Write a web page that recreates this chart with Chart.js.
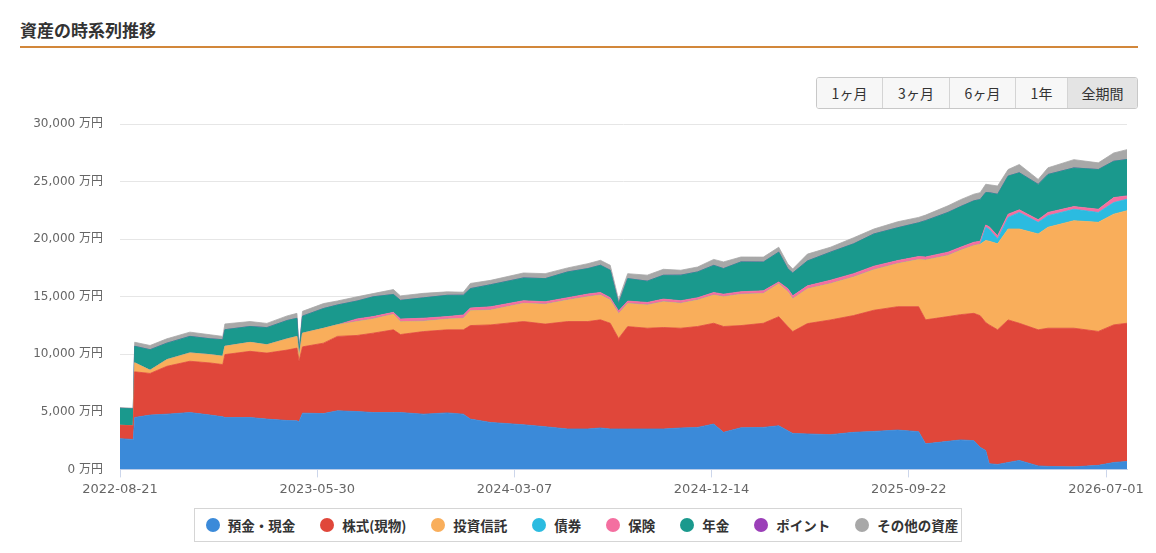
<!DOCTYPE html>
<html lang="ja">
<head>
<meta charset="utf-8">
<title>資産の時系列推移</title>
<script src="https://cdn.jsdelivr.net/npm/chart.js@4.4.1/dist/chart.umd.min.js"></script>
<style>
  html, body { margin: 0; padding: 0; background: #fff; }
  body { width: 1156px; height: 553px; position: relative; overflow: hidden;
         font-family: 'Noto Sans CJK JP', sans-serif; color: #333; }
  h2 { position: absolute; left: 20px; top: 17px; margin: 0; font-size: 17px; font-weight: bold; color: #333; }
  .rule { position: absolute; left: 20px; top: 46px; width: 1118px; height: 2px; background: #d2873a; }
  .range { position: absolute; left: 816px; top: 77px; display: flex; border: 1px solid #c8c8c8;
           border-radius: 3px; overflow: hidden; }
  .range span { display: block; box-sizing: border-box; height: 30px; line-height: 30px; text-align: center;
                font-size: 14px; background: #f7f7f7; border-left: 1px solid #d4d4d4; color: #333; }
  .range span:first-child { border-left: none; }
  .range span.on { background: #e4e4e4; }
  .wrap { position: absolute; left: 20px; top: 100px; width: 1136px; height: 404px; }
  .legend { position: absolute; left: 194px; top: 508px; width: 768px; height: 34px; box-sizing: border-box;
            border: 1px solid #d5d5d5; display: flex; align-items: center; justify-content: center;
            white-space: nowrap; padding-left: 8px; }
  .legend .item { display: flex; align-items: center; flex-shrink: 0; margin: 0 12.5px;
                  font-size: 13.5px; font-weight: bold; color: #333; white-space: nowrap; }
  .legend .dot { flex-shrink: 0; width: 14px; height: 14px; border-radius: 50%; margin-right: 8px; }
</style>
</head>
<body>
<h2>資産の時系列推移</h2>
<div class="rule"></div>
<div class="range">
  <span style="width:65px">1ヶ月</span><span style="width:67px">3ヶ月</span><span style="width:66px">6ヶ月</span><span style="width:52px">1年</span><span class="on" style="width:70px">全期間</span>
</div>
<div class="wrap"><canvas id="assetChart"></canvas></div>
<div class="legend" id="legend"></div>
<script>
// 日付（観測日）
var dates = [
  '2022-08-21', '2022-09-09', '2022-09-11', '2022-10-03', '2022-10-27', '2022-11-29', '2022-12-28',
  '2023-01-15', '2023-01-18', '2023-02-23', '2023-03-19', '2023-04-17', '2023-05-01', '2023-05-04',
  '2023-05-09', '2023-06-08', '2023-06-28', '2023-07-26', '2023-08-18', '2023-09-16', '2023-09-26',
  '2023-10-29', '2023-12-02', '2023-12-25', '2024-01-04', '2024-02-02', '2024-03-20', '2024-04-20',
  '2024-05-22', '2024-06-20', '2024-07-08', '2024-07-22', '2024-08-03', '2024-08-16', '2024-09-13',
  '2024-10-06', '2024-10-31', '2024-11-24', '2024-12-17', '2024-12-31', '2025-01-25', '2025-02-26',
  '2025-03-20', '2025-04-02', '2025-04-09', '2025-04-30', '2025-06-02', '2025-07-05', '2025-08-03',
  '2025-09-06', '2025-10-06', '2025-10-16', '2025-11-17', '2025-12-05', '2025-12-24', '2026-01-02',
  '2026-01-10', '2026-01-15', '2026-01-27', '2026-02-11', '2026-02-27', '2026-03-26', '2026-04-09',
  '2026-05-16', '2026-06-20', '2026-07-12', '2026-07-31'
];

// 万円
var deposit = [
  2670, 2600, 4510, 4720, 4800, 4940, 4720, 4570, 4510, 4510, 4370, 4250, 4220, 4140,
  4890, 4850, 5090, 5030, 4940, 4940, 4940, 4800, 4910, 4800, 4370, 4080, 3880, 3710,
  3510, 3510, 3600, 3510, 3510, 3510, 3510, 3510, 3600, 3650, 3940, 3220, 3620, 3650,
  3790, 3360, 3130, 3080, 3020, 3220, 3300, 3420, 3280, 2220, 2440, 2560, 2500, 1920,
  1640, 490, 430, 600, 780, 300, 260, 220, 350, 600, 690
];
var stocks = [
  1160, 1200, 3970, 3620, 4160, 4460, 4530, 4540, 5470, 5750, 5740, 6120, 6320, 5260,
  5760, 6120, 6470, 6610, 6900, 7190, 6780, 7180, 7220, 7330, 8130, 8480, 8970, 8920,
  9340, 9340, 9400, 9190, 7870, 8900, 8760, 8820, 8670, 8770, 8760, 9200, 8880, 9050,
  9480, 9050, 8850, 9590, 9970, 10150, 10530, 10720, 10860, 10780, 10840, 10890, 11060, 11440,
  11120, 12070, 11700, 12390, 11920, 11830, 12010, 12050, 11640, 11960, 12010
];
var funds = [
  0, 0, 780, 280, 580, 720, 720, 720, 720, 780, 720, 970, 1010, 350,
  1190, 1290, 1010, 1210, 1240, 1350, 1120, 900, 930, 1000, 1290, 1290, 1580, 1720,
  1870, 2160, 2160, 2020, 2160, 2010, 2020, 2240, 2160, 2300, 2450, 2590, 2720, 2590,
  2870, 3020, 2850, 3020, 3160, 3360, 3530, 3750, 4100, 5200, 5320, 5600, 5900, 6210,
  7130, 7270, 7470, 7900, 8190, 8330, 8770, 9340, 9480, 9620, 9780
];
var bonds = [
  0, 0, 0, 0, 0, 0, 0, 0, 0, 0, 0, 0, 0, 0,
  0, 0, 0, 0, 0, 0, 0, 0, 0, 0, 0, 0, 0, 0,
  0, 0, 0, 0, 0, 0, 0, 0, 0, 0, 0, 0, 0, 0,
  0, 0, 0, 0, 0, 0, 0, 0, 0, 0, 0, 0, 0, 0,
  1150, 1030, 430, 1010, 1440, 1010, 1010, 1000, 860, 1010, 1000
];
var insurance = [
  0, 0, 0, 0, 0, 0, 0, 0, 0, 0, 0, 0, 0, 0,
  0, 0, 0, 230, 200, 170, 230, 260, 220, 290, 230, 280, 230, 220,
  200, 230, 220, 200, 230, 210, 220, 230, 230, 200, 220, 220, 220, 230,
  150, 280, 260, 260, 290, 280, 300, 260, 260, 260, 280, 260, 280, 260,
  200, 220, 280, 280, 230, 230, 280, 230, 280, 430, 290
];
var pension = [
  1480, 1460, 1440, 1780, 1430, 1440, 1380, 1440, 1440, 1380, 1490, 1600, 1580, 430,
  1480, 1720, 1720, 1550, 1720, 1550, 1620, 1770, 1850, 1720, 1690, 1920, 1980, 2010,
  2240, 2210, 2360, 2390, 630, 1950, 1850, 2070, 2220, 2240, 2360, 2220, 2590, 2500,
  2590, 1720, 1980, 2160, 2440, 2590, 2800, 2850, 2930, 3160, 3450, 3530, 3600, 3620,
  2820, 2970, 3600, 3310, 3220, 3070, 3300, 3360, 3450, 3160, 3160
];
var points = [
  0, 0, 0, 0, 0, 0, 0, 0, 0, 0, 0, 0, 0, 0,
  0, 0, 0, 0, 0, 0, 0, 0, 0, 0, 0, 0, 0, 0,
  0, 0, 0, 0, 0, 0, 0, 0, 0, 0, 0, 0, 0, 0,
  0, 0, 0, 0, 0, 0, 0, 0, 0, 0, 0, 0, 0, 0,
  0, 0, 0, 0, 0, 0, 0, 0, 0, 0, 0
];
var others = [
  60, 60, 350, 370, 380, 370, 350, 290, 500, 430, 370, 400, 430, 170,
  420, 430, 350, 370, 280, 430, 390, 390, 300, 260, 450, 380, 430, 430,
  350, 430, 430, 430, 350, 430, 520, 520, 430, 430, 520, 580, 430, 430,
  430, 430, 350, 600, 430, 530, 430, 520, 470, 480, 580, 600, 580, 600,
  720, 690, 720, 570, 720, 430, 580, 720, 580, 720, 860
];

var seriesNames = ['預金・現金', '株式(現物)', '投資信託', '債券', '保険', '年金', 'ポイント', 'その他の資産'];
var seriesColors = ['#3b8ad9', '#e0473a', '#f9ae5b', '#2bbbe0', '#f46fa0', '#1a998d', '#9b3fb8', '#a8a8a8'];
var seriesValues = [deposit, stocks, funds, bonds, insurance, pension, points, others];

var tickDates = ['2022-08-21', '2023-05-30', '2024-03-07', '2024-12-14', '2025-09-22', '2026-07-01'];

var DAY = 86400000;
var base = Date.parse(dates[0]);
function toDay(d) { return Math.round((Date.parse(d) - base) / DAY); }
function dayLabel(n) { return new Date(base + n * DAY).toISOString().slice(0, 10); }

var tickFont = "'DejaVu Sans', 'Noto Sans CJK JP', sans-serif";

var datasets = seriesValues.map(function (vals, i) {
  return {
    label: seriesNames[i],
    data: vals.map(function (v, j) { return { x: toDay(dates[j]), y: v }; }),
    backgroundColor: seriesColors[i],
    borderColor: seriesColors[i],
    borderWidth: 0.8,
    pointRadius: 0,
    fill: i === 0 ? 'origin' : '-1',
    tension: 0
  };
});

var ctx = document.getElementById('assetChart').getContext('2d');
var assetChart = new Chart(ctx, {
  type: 'line',
  data: { datasets: datasets },
  options: {
    responsive: true,
    maintainAspectRatio: false,
    animation: false,
    layout: { padding: { top: 4, right: 29, bottom: 3, left: 0 } },
    interaction: { mode: 'nearest', intersect: false },
    scales: {
      x: {
        type: 'linear',
        min: 0,
        max: toDay(dates[dates.length - 1]),
        afterBuildTicks: function (axis) {
          axis.ticks = tickDates.map(function (d) { return { value: toDay(d) }; });
        },
        ticks: {
          callback: function (v) { return dayLabel(v); },
          color: '#666',
          font: { family: tickFont, size: 13 },
          maxRotation: 0,
          autoSkip: false,
          padding: 4
        },
        grid: { drawOnChartArea: false, color: '#ccd6eb', tickLength: 8 },
        border: { color: '#ccd6eb' }
      },
      y: {
        stacked: true,
        min: 0,
        max: 30000,
        ticks: {
          stepSize: 5000,
          callback: function (v) { return v.toLocaleString('en-US') + ' 万円'; },
          color: '#666',
          font: { family: tickFont, size: 12 },
          padding: 17
        },
        grid: { color: '#e6e6e6', drawTicks: false },
        border: { display: false },
        afterFit: function (s) { s.width = 100; }
      }
    },
    plugins: {
      legend: { display: false },
      tooltip: { enabled: false }
    }
  }
});

// 凡例（HTML）
var legendEl = document.getElementById('legend');
assetChart.data.datasets.forEach(function (ds) {
  var item = document.createElement('div');
  item.className = 'item';
  var dot = document.createElement('span');
  dot.className = 'dot';
  dot.style.background = ds.backgroundColor;
  item.appendChild(dot);
  item.appendChild(document.createTextNode(ds.label));
  legendEl.appendChild(item);
});
</script>
</body>
</html>
